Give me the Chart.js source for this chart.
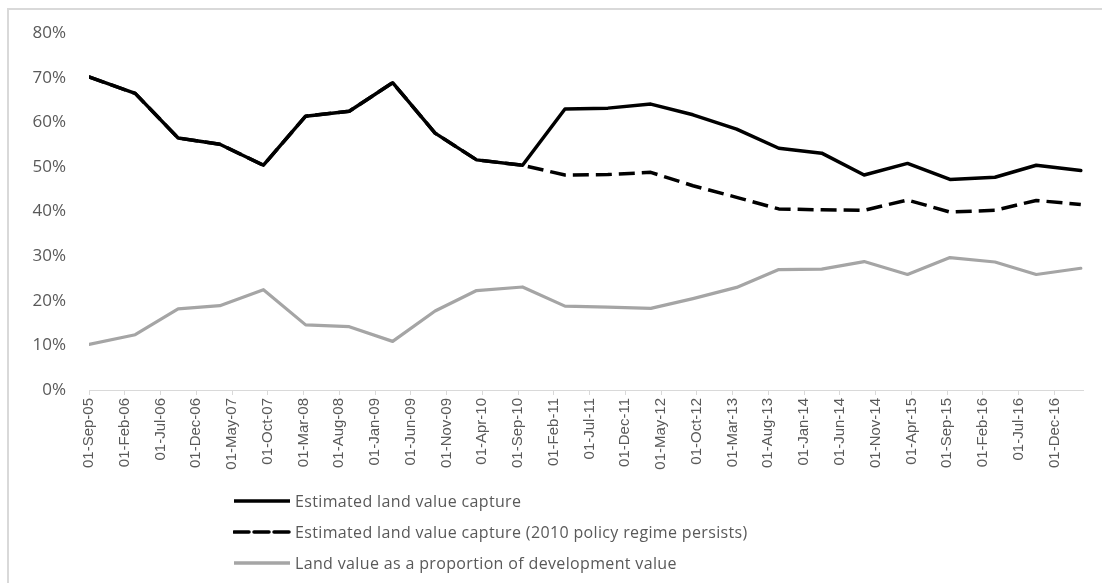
<!DOCTYPE html>
<html>
<head>
<meta charset="utf-8">
<script src="https://cdn.jsdelivr.net/npm/chart.js@4/dist/chart.umd.min.js"></script>
<style>
  html, body { margin: 0; padding: 0; background: #ffffff; }
  #wrap { position: relative; width: 1102px; height: 583px; overflow: hidden; background: #fff; }
  #frame { position: absolute; left: 7px; top: 8px; width: 1110px; height: 600px; border: 2px solid #d9d9d9; box-sizing: border-box; pointer-events: none; }
  #c { position: absolute; left: 0; top: 0; }
  #legend { position: absolute; left: 233px; top: 485px; font-family: "Open Sans", sans-serif; font-size: 16px; color: #595959; letter-spacing: 0.35px; }
  .item { display: flex; align-items: center; height: 31px; }
  .item svg { margin-right: 4px; }
</style>
</head>
<body>
<div id="wrap">
  <div id="frame"></div>
  <canvas id="c" width="1102" height="583"></canvas>
  <div id="legend"></div>
</div>
<script>
// ---- data ----
const seriesNames = [
  "Estimated land value capture",
  "Estimated land value capture (2010 policy regime persists)",
  "Land value as a proportion of development value"
];
const pointDates = [
  "2005-09-01", "2006-03-15", "2006-09-15", "2007-03-10", "2007-09-13", "2008-03-10",
  "2008-09-13", "2009-03-15", "2009-09-13", "2010-03-07", "2010-09-20", "2011-03-18",
  "2011-09-18", "2012-03-18", "2012-09-15", "2013-03-18", "2013-09-15", "2014-03-15",
  "2014-09-13", "2015-03-15", "2015-09-13", "2016-03-22", "2016-09-15", "2017-03-22"
];
const landValueCapture = [
  70.2, 66.5, 56.5, 55.1, 50.4, 61.4, 62.5, 68.9, 57.6, 51.6, 50.4, 63.0,
  63.2, 64.1, 61.7, 58.5, 54.2, 53.1, 48.2, 50.8, 47.2, 47.7, 50.4, 49.2
];
const landValueCapture2010 = [
  70.2, 66.5, 56.5, 55.1, 50.4, 61.4, 62.5, 68.9, 57.6, 51.6, 50.4, 48.2,
  48.3, 48.8, 45.8, 43.2, 40.6, 40.4, 40.3, 42.6, 39.9, 40.3, 42.5, 41.6
];
const landShareOfDevValue = [
  10.2, 12.4, 18.2, 18.9, 22.5, 14.6, 14.2, 10.9, 17.7, 22.3, 23.1, 18.8,
  18.6, 18.3, 20.5, 23.0, 27.0, 27.1, 28.8, 25.9, 29.7, 28.7, 25.9, 27.3
];
const tickLabels = [
  "01-Sep-05", "01-Feb-06", "01-Jul-06", "01-Dec-06", "01-May-07", "01-Oct-07",
  "01-Mar-08", "01-Aug-08", "01-Jan-09", "01-Jun-09", "01-Nov-09", "01-Apr-10",
  "01-Sep-10", "01-Feb-11", "01-Jul-11", "01-Dec-11", "01-May-12", "01-Oct-12",
  "01-Mar-13", "01-Aug-13", "01-Jan-14", "01-Jun-14", "01-Nov-14", "01-Apr-15",
  "01-Sep-15", "01-Feb-16", "01-Jul-16", "01-Dec-16"
];
const yTicks = [0, 10, 20, 30, 40, 50, 60, 70, 80];

// months elapsed since 01-Sep-2005
function monthsSinceStart(s) {
  const [y, m, d] = s.split("-").map(Number);
  return (y - 2005) * 12 + (m - 9) + (d - 1) / 30.4;
}
function tickLabelMonth(lbl) {
  const mon = {Jan:1,Feb:2,Mar:3,Apr:4,May:5,Jun:6,Jul:7,Aug:8,Sep:9,Oct:10,Nov:11,Dec:12};
  const p = lbl.split("-");
  return monthsSinceStart((2000 + Number(p[2])) + "-" + mon[p[1]] + "-" + Number(p[0]));
}
const xs = pointDates.map(monthsSinceStart);
const toPts = arr => arr.map((v, i) => ({ x: xs[i], y: v }));
const tickValues = tickLabels.map(tickLabelMonth);

const colors = ["#000000", "#000000", "#a5a5a5"];
const dashes = [[], [16, 7], []];

const chart = new Chart(document.getElementById("c"), {
  type: "line",
  data: {
    datasets: [
      { label: seriesNames[0], data: toPts(landValueCapture), borderColor: colors[0], borderWidth: 3.5, borderDash: dashes[0], pointRadius: 0, tension: 0, borderJoinStyle: "round", borderCapStyle: "round" },
      { label: seriesNames[1], data: toPts(landValueCapture2010), borderColor: colors[1], borderWidth: 3.5, borderDash: dashes[1], pointRadius: 0, tension: 0, borderJoinStyle: "round", borderCapStyle: "butt" },
      { label: seriesNames[2], data: toPts(landShareOfDevValue), borderColor: colors[2], borderWidth: 3.2, borderDash: dashes[2], pointRadius: 0, tension: 0, borderJoinStyle: "round", borderCapStyle: "round" }
    ]
  },
  options: {
    responsive: false,
    animation: false,
    events: [],
    layout: { padding: { top: 29, right: 19, bottom: 90, left: 0 } },
    plugins: { legend: { display: false }, tooltip: { enabled: false } },
    scales: {
      x: {
        type: "linear",
        min: 0,
        max: 139,
        afterBuildTicks: s => { s.ticks = tickValues.map(v => ({ value: v })); },
        afterFit: s => { s.height = 103; },
        grid: { display: true, drawOnChartArea: false, drawTicks: true, tickLength: 5, color: "#d9d9d9", lineWidth: 1 },
        border: { display: true, color: "#d9d9d9", width: 1 },
        ticks: {
          autoSkip: false,
          maxRotation: 90,
          minRotation: 90,
          padding: 3,
          color: "#595959",
          font: { family: "'Liberation Sans', sans-serif", size: 15 },
          callback: (v, i) => tickLabels[i]
        }
      },
      y: {
        min: 0,
        max: 80,
        afterBuildTicks: s => { s.ticks = yTicks.map(v => ({ value: v })); },
        afterFit: s => { s.width = 89; },
        grid: { display: false, drawTicks: false },
        border: { display: false },
        ticks: {
          padding: 23,
          color: "#595959",
          font: { family: "'Open Sans', sans-serif", size: 17 },
          callback: v => v + "%"
        }
      }
    }
  }
});

// HTML legend built from the datasets
const legendEl = document.getElementById("legend");
chart.data.datasets.forEach(ds => {
  const row = document.createElement("div");
  row.className = "item";
  const dashed = ds.borderDash && ds.borderDash.length;
  row.innerHTML =
    '<svg width="58" height="8"><line x1="1" y1="4" x2="57" y2="4" stroke="' + ds.borderColor +
    '" stroke-width="3.5" stroke-dasharray="' + (dashed ? "15,5" : "none") +
    '" stroke-linecap="' + (dashed ? "round" : "butt") + '"/></svg><span>' + ds.label + '</span>';
  legendEl.appendChild(row);
});
</script>
</body>
</html>
